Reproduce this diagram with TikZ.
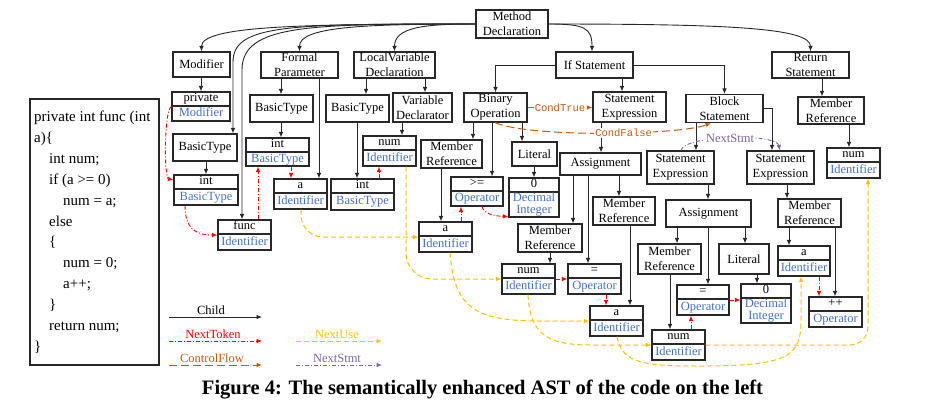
\documentclass[tikz,border=0pt]{standalone}
\usepackage{fontspec}
\setmainfont{Liberation Serif}
\newfontfamily\cfmono{Liberation Mono}
\usetikzlibrary{arrows.meta,calc}
\definecolor{tokblue}{RGB}{68,114,196}
\definecolor{ntred}{RGB}{255,0,0}
\definecolor{nuyellow}{RGB}{255,192,0}
\definecolor{cfbrown}{RGB}{197,90,17}
\definecolor{nspurple}{RGB}{128,100,162}
\definecolor{edgegray}{RGB}{40,40,40}
\tikzset{
  box/.style={draw=edgegray, line width=1.2pt, align=center, inner sep=0pt, font=\fontsize{12.5}{15}\selectfont},
  tokbox/.style={draw=edgegray, line width=1.2pt, inner sep=0pt},
  toktxt/.style={inner sep=0pt, text height=8.5pt, text depth=2.5pt, font=\fontsize{12.5}{12}\selectfont},
  toktwo/.style={inner sep=0pt, align=center, font=\fontsize{12.5}{12}\selectfont},
  child/.style={draw=edgegray, line width=0.9pt, -{Latex[length=5.5pt,width=4.6pt]}},
  ntok/.style={draw=ntred, line width=0.9pt, dash pattern=on 4pt off 2pt on 1pt off 2pt, -{Latex[length=5.5pt,width=4.6pt]}},
  nuse/.style={draw=nuyellow, line width=1pt, dash pattern=on 5pt off 3pt, -{Latex[length=5.5pt,width=4.6pt]}},
  cflow/.style={draw=cfbrown, line width=1pt, dash pattern=on 8pt off 4pt, -{Latex[length=5.5pt,width=4.6pt]}},
  nstmt/.style={draw=nspurple, line width=0.9pt, dash pattern=on 4pt off 2pt on 1pt off 2pt, -{Latex[length=5.5pt,width=4.6pt]}},
  cflbl/.style={fill=white, inner sep=1pt, text=cfbrown, font=\cfmono\fontsize{10.5}{12}\selectfont},
  lgtxt/.style={inner sep=0pt, anchor=base, font=\fontsize{12.5}{15}\selectfont},
  codetxt/.style={anchor=west, inner sep=0pt, text height=10.5pt, text depth=3.5pt, font=\fontsize{15}{18}\selectfont},
}
% token box: name, x, y, width, height, top text, bottom text
\newcommand\tokn[7]{%
  \node[tokbox, minimum width=#4pt, minimum height=#5pt] (#1) at (#2,#3) {};
  \draw[tokbox] ([yshift=-14.5pt]#1.north west) -- ([yshift=-14.5pt]#1.north east);
  \node[toktxt] (#1-t) at ([yshift=-7.5pt]#1.north) {#6};
  \node[toktxt, text=tokblue] (#1-b) at ($([yshift=-14.5pt]#1.north)!0.5!(#1.south)$) {#7};
}
\newcommand\toknn[7]{%
  \node[tokbox, minimum width=#4pt, minimum height=#5pt] (#1) at (#2,#3) {};
  \draw[tokbox] ([yshift=-14.5pt]#1.north west) -- ([yshift=-14.5pt]#1.north east);
  \node[toktxt] (#1-t) at ([yshift=-7.5pt]#1.north) {#6};
  \node[toktwo, text=tokblue] (#1-b) at ($([yshift=-14.5pt]#1.north)!0.5!(#1.south)$) {#7};
}
\newcommand\vch[3]{\draw[child] (#1.south -| #3,0) -- (#2.north -| #3,0);}
\begin{document}
\begin{tikzpicture}[x=1pt,y=-1pt]
\useasboundingbox (0,0) rectangle (942,400);

% ---- code box ----
\node[draw=edgegray, line width=1.2pt, minimum width=129pt, minimum height=266pt, inner sep=0pt] (codebox) at (94.5,232) {};
\node[codetxt] (code1) at (34,118) {private int func (int};
\node[codetxt] (code2) at (34,138.9) {a)\{};
\node[codetxt] (code3) at (49,159.8) {int num;};
\node[codetxt] (code4) at (49,180.7) {if (a >= 0)};
\node[codetxt] (code5) at (63,201.6) {num = a;};
\node[codetxt] (code6) at (49,222.5) {else};
\node[codetxt] (code7) at (49,243.4) {\{};
\node[codetxt] (code8) at (63,264.3) {num = 0;};
\node[codetxt] (code9) at (63,285.2) {a++;};
\node[codetxt] (code10) at (49,306.1) {\}};
\node[codetxt] (code11) at (49,327) {return num;};
\node[codetxt] (code12) at (34,347.9) {\}};

% ---- plain nodes ----
\node[box,minimum width=72pt,minimum height=28pt] (md) at (512,24) {Method\\Declaration};
\node[box,minimum width=57pt,minimum height=25pt] (mod) at (201.5,64.5) {Modifier};
\node[box,minimum width=64pt,minimum height=27pt] (bt1) at (205,147.5) {BasicType};
\node[box,minimum width=77pt,minimum height=26pt] (fp) at (299.5,65) {Formal\\Parameter};
\node[box,minimum width=63pt,minimum height=27pt] (bt2) at (281.5,108.5) {BasicType};
\node[box,minimum width=81pt,minimum height=26pt] (lvd) at (394.5,65) {LocalVariable\\Declaration};
\node[box,minimum width=63pt,minimum height=27pt] (bt3) at (357.5,108.5) {BasicType};
\node[box,minimum width=59pt,minimum height=29pt] (vd) at (422.5,107.5) {Variable\\Declarator};
\node[box,minimum width=77pt,minimum height=26pt] (ifs) at (594.5,65) {If Statement};
\node[box,minimum width=63pt,minimum height=29pt] (binop) at (495.5,107.5) {Binary\\Operation};
\node[box,minimum width=73pt,minimum height=30pt] (se1) at (629.5,107) {Statement\\Expression};
\node[box,minimum width=77pt,minimum height=28pt] (blk) at (724.5,108.5) {Block\\Statement};
\node[box,minimum width=77pt,minimum height=26pt] (ret) at (810.5,65) {Return\\Statement};
\node[box,minimum width=66pt,minimum height=27pt] (mr5) at (831,110.5) {Member\\Reference};
\node[box,minimum width=61pt,minimum height=28pt] (mr1) at (451.5,154) {Member\\Reference};
\node[box,minimum width=45pt,minimum height=24pt] (lit1) at (534.5,154) {Literal};
\node[box,minimum width=81pt,minimum height=22pt] (asg1) at (600.5,164) {Assignment};
\node[box,minimum width=64pt,minimum height=28pt] (mr2) at (550,238) {Member\\Reference};
\node[box,minimum width=62pt,minimum height=28pt] (mr3) at (624,211) {Member\\Reference};
\node[box,minimum width=67pt,minimum height=33pt] (se2) at (680.5,167.5) {Statement\\Expression};
\node[box,minimum width=67pt,minimum height=33pt] (se3) at (780.5,167.5) {Statement\\Expression};
\node[box,minimum width=85pt,minimum height=27pt] (asg2) at (708.5,213.5) {Assignment};
\node[box,minimum width=63pt,minimum height=30pt] (mr4) at (669.5,259) {Member\\Reference};
\node[box,minimum width=50pt,minimum height=30pt] (lit2) at (744,259) {Literal};
\node[box,minimum width=63pt,minimum height=28pt] (mr6) at (809.5,213) {Member\\Reference};

% ---- token nodes ----
\tokn{tpriv}{201}{106.5}{58}{29}{private}{Modifier}
\tokn{tint1}{206}{190}{64}{30}{int}{BasicType}
\tokn{tfunc}{244.5}{235}{53}{30}{func}{Identifier}
\tokn{tint2}{277.5}{152}{63}{28}{int}{BasicType}
\tokn{ta1}{300.5}{194}{53}{30}{a}{Identifier}
\tokn{tint3}{362.5}{194.5}{63}{31}{int}{BasicType}
\tokn{tnum1}{389.5}{151}{53}{30}{num}{Identifier}
\tokn{tge}{477}{191.5}{52}{29}{>=}{Operator}
\toknn{tzero1}{534}{197.5}{50}{39}{0}{Decimal\\Integer}
\tokn{ta2}{445.5}{237}{53}{30}{a}{Identifier}
\tokn{tnum2}{528.5}{279}{53}{30}{num}{Identifier}
\tokn{teq1}{594.5}{279}{53}{30}{=}{Operator}
\tokn{ta3}{616.5}{321}{53}{30}{a}{Identifier}
\tokn{teq2}{703}{300}{52}{30}{=}{Operator}
\toknn{tzero2}{766}{303.5}{50}{39}{0}{Decimal\\Integer}
\tokn{tnum3}{678.5}{345}{53}{30}{num}{Identifier}
\tokn{ta4}{804}{261}{52}{30}{a}{Identifier}
\tokn{tpp}{835.5}{312}{53}{30}{++}{Operator}
\tokn{tnum4}{853.5}{163}{53}{30}{num}{Identifier}

% ---- child edges ----
\draw[child] (md.west) .. controls (300,24) and (201.5,26) .. (mod.north);
\draw[child] (md.west) .. controls (290,24) and (233,24) .. (233,62) -- (bt1.north -| 233,0);
\draw[child] (md.west) .. controls (310,24) and (242,24) .. (242,70) -- (tfunc.north -| 242,0);
\draw[child] (md.west) .. controls (360,24) and (299.5,27) .. (fp.north);
\draw[child] (md.west) .. controls (425,24) and (394.5,27) .. (lvd.north);
\draw[child] (md.east) .. controls (585,24) and (592,28) .. (ifs.north -| 592,0);
\draw[child] (md.east) .. controls (730,24) and (810.5,28) .. (ret.north);
\vch{mod}{tpriv}{201}
\vch{bt1}{tint1}{206}
\vch{fp}{bt2}{281}
\vch{fp}{ta1}{319}
\vch{bt2}{tint2}{281}
\vch{lvd}{bt3}{366}
\vch{lvd}{vd}{425}
\vch{bt3}{tint3}{357}
\vch{vd}{tnum1}{402}
\vch{ifs}{se1}{622}
\vch{binop}{mr1}{473}
\vch{binop}{tge}{492}
\vch{binop}{lit1}{522}
\vch{lit1}{tzero1}{534}
\vch{mr1}{ta2}{441}
\vch{se1}{asg1}{601}
\vch{asg1}{mr2}{573}
\vch{asg1}{teq1}{588}
\vch{asg1}{mr3}{619}
\vch{mr2}{tnum2}{550}
\vch{mr3}{ta3}{630}
\vch{blk}{se2}{696}
\vch{se2}{asg2}{708}
\vch{asg2}{mr4}{677}
\vch{asg2}{teq2}{708}
\vch{asg2}{lit2}{745}
\vch{mr4}{tnum3}{670}
\vch{lit2}{tzero2}{757}
\vch{se3}{mr6}{787}
\vch{mr6}{ta4}{789}
\vch{mr6}{tpp}{835}
\vch{ret}{mr5}{822}
\vch{mr5}{tnum4}{849}
\draw[child] (ifs.west) -| (binop.north);
\draw[child] (ifs.east) -| (blk.north);
\draw[child] (blk.east) -| (se3.north -| 772,0);

% ---- NextToken ----
\draw[ntok] (tpriv.west) .. controls (164,110) and (164,178) .. ([yshift=10pt]tint1.west);
\draw[ntok] (tint1.south -| 185,0) .. controls (185,228) and (195,235) .. (tfunc.west);
\draw[ntok] (tfunc.north -| 258,0) -- (tint2.south -| 258,0);
\draw[ntok] (tint2.south -| 291,0) -- (ta1.north -| 291,0);
\draw[ntok] (tint3.north -| 379,0) -- (tnum1.south -| 379,0);
\draw[ntok] (ta2.north -| 461,0) -- (tge.south -| 461,0);
\draw[ntok] (tge.south -| 482,0) .. controls (484,214) and (494,216) .. ([yshift=1pt]tzero1.south west);
\draw[ntok] (tnum2.east) -- (teq1.west);
\draw[ntok] (teq1.south -| 606,0) -- (ta3.north -| 606,0);
\draw[ntok] (tnum3.north -| 691,0) -- (teq2.south -| 691,0);
\draw[ntok] (teq2.east) -- (tzero2.west |- teq2.east);
\draw[ntok] (ta4.south -| 819,0) -- (tpp.north -| 819,0);

% ---- NextUse ----
\draw[nuse, rounded corners=22pt] (ta1.south -| 301,0) |- (ta2.west);
\draw[nuse, rounded corners=26pt] (tnum1.south -| 406,0) |- (tnum2.west);
\draw[nuse] (ta2.south -| 450,0) .. controls (454,308) and (475,321) .. (540,321) -- (ta3.west);
\draw[nuse] (tnum2.south -| 528,0) .. controls (530,332) and (545,345) .. (590,345) -- (tnum3.west);
\draw[nuse] (ta3.south -| 617,0) .. controls (622,364) and (645,366) .. (700,366) .. controls (790,366) and (801,356) .. (801,320) -- (ta4.south -| 801,0);
\draw[nuse, rounded corners=18pt] (tnum3.east) -| (tnum4.south -| 868,0);

% ---- ControlFlow ----
\draw[cflow] (binop.east) -- node[cflbl] (lblct) {CondTrue} (se1.west |- binop.east);
\draw[cflow] (binop.south -| 495,0) .. controls (530,138) and (680,135) .. node[cflbl, pos=0.57] (lblcf) {CondFalse} (blk.south -| 711,0);

% ---- NextStmt ----
\draw[nstmt] (se2.north -| 681,0) .. controls (684,135) and (776,133) .. node[pos=0.5, fill=white, inner sep=1pt, text=nspurple, font=\fontsize{12.5}{15}\selectfont] (lblns) {NextStmt} (se3.north -| 780,0);

% ---- legend ----
\coordinate (lgc1) at (169,317); \coordinate (lgc2) at (262,317);
\coordinate (lgt1) at (169,341); \coordinate (lgt2) at (262,341);
\coordinate (lgf1) at (169,365); \coordinate (lgf2) at (262,365);
\coordinate (lgu1) at (296,341); \coordinate (lgu2) at (382,341);
\coordinate (lgs1) at (296,365); \coordinate (lgs2) at (382,365);
\draw[child] (lgc1) -- (lgc2);
\draw[ntok] (lgt1) -- (lgt2);
\draw[cflow] (lgf1) -- (lgf2);
\draw[nuse] (lgu1) -- (lgu2);
\draw[nstmt] (lgs1) -- (lgs2);
\node[lgtxt] (lgchild) at (211,314.5) {Child};
\node[lgtxt, text=ntred] (lgnt) at (213,338) {NextToken};
\node[lgtxt, text=cfbrown] (lgcf) at (212,362.5) {ControlFlow};
\node[lgtxt, text=nuyellow] (lgnu) at (337,338) {NextUse};
\node[lgtxt, text=nspurple] (lgns) at (337,362.5) {NextStmt};

% ---- caption ----
\node[font=\bfseries\fontsize{20.5}{24}\selectfont, anchor=base, inner sep=0pt] (caption) at (482.5,394) {Figure 4: The semantically enhanced AST of the code on the left};
\end{tikzpicture}
\end{document}
